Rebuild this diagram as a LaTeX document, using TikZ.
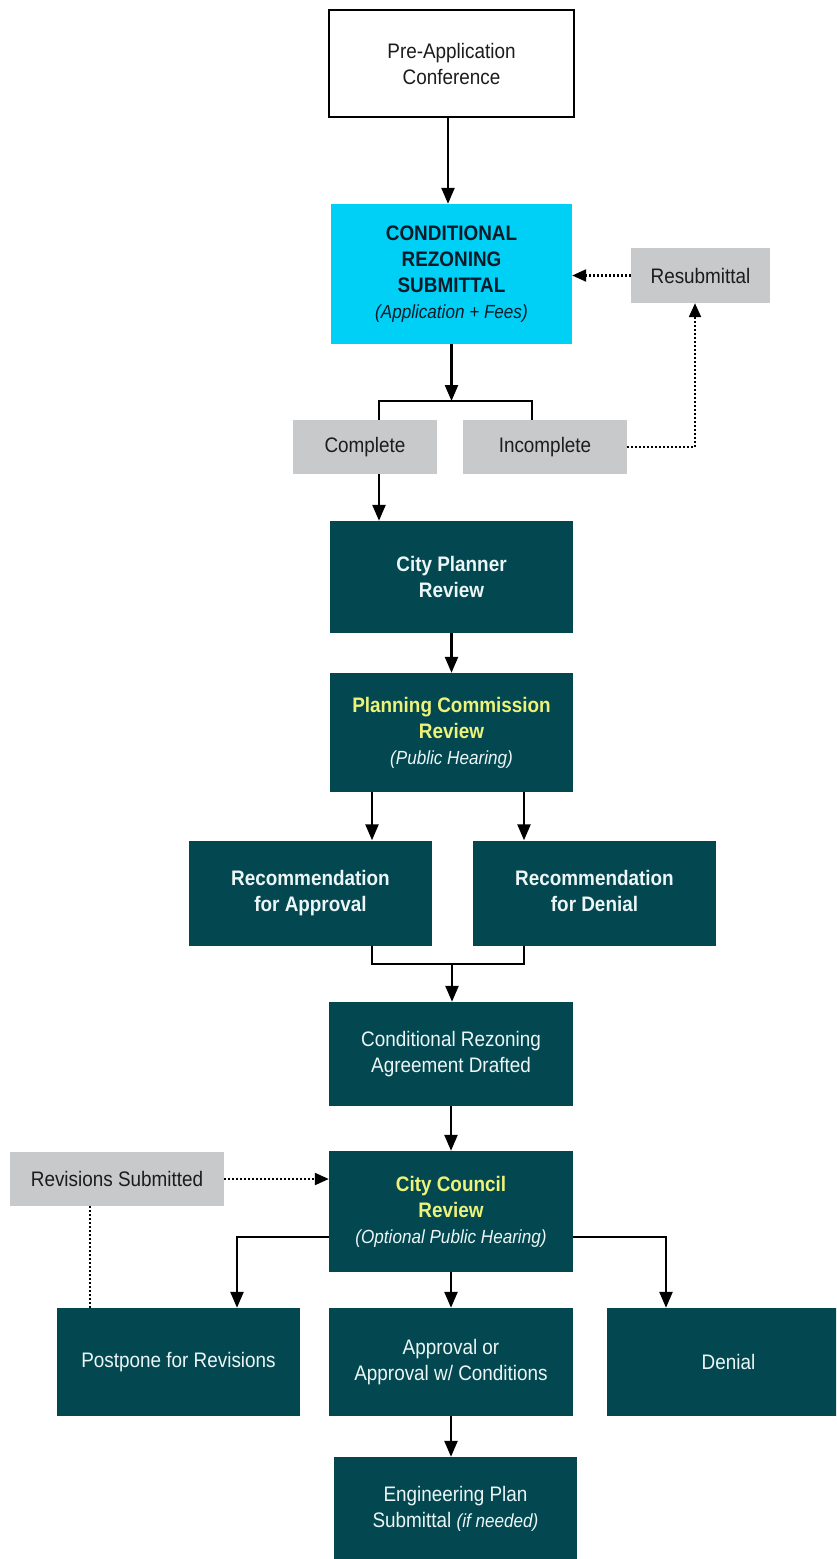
\documentclass[tikz,border=0pt]{standalone}
\usepackage{fontspec}
\setmainfont[FakeStretch=0.9]{Liberation Sans}
\usetikzlibrary{arrows.meta,calc}
\definecolor{tealbox}{RGB}{3,72,80}
\definecolor{boxgrey}{RGB}{200,201,203}
\definecolor{cyanbox}{RGB}{0,208,245}
\definecolor{yell}{RGB}{238,242,120}
\definecolor{boxwhite}{RGB}{236,246,246}
\definecolor{darktext}{RGB}{28,28,30}
\definecolor{navytext}{RGB}{10,26,40}
\newcommand\subtxt[1]{{\fontsize{19}{26}\selectfont\itshape #1}}
\begin{document}
\begin{tikzpicture}[x=1pt,y=-1pt,
  box/.style={rectangle,inner sep=0pt,align=center,font=\fontsize{21}{26}\selectfont},
  tbox/.style={box,fill=tealbox,text=boxwhite},
  gbox/.style={box,fill=boxgrey,text=darktext},
  arr/.style={line width=2.4pt,-{Triangle[width=13pt,length=16pt]}},
  dotarr/.style={line width=2.2pt,dash pattern=on 2pt off 2pt,-{Triangle[width=12pt,length=14pt]}},
  dotline/.style={line width=2.2pt,dash pattern=on 2pt off 2pt},
  plain/.style={line width=2.4pt}]
\useasboundingbox (0,0) rectangle (836,1559);
\clip (0,0) rectangle (836,1559);
\fill[white] (0,0) rectangle (836,1559);

% nodes
\node[box,draw=black,line width=2.4pt,fill=white,text=darktext,minimum width=245pt,minimum height=107pt] (pre) at (451.5,63.5) {Pre-Application\\Conference};
\node[box,fill=cyanbox,text=navytext,minimum width=241pt,minimum height=140pt] (crs) at (451.5,274) {\textbf{CONDITIONAL}\\\textbf{REZONING}\\\textbf{SUBMITTAL}\\\subtxt{(Application + Fees)}};
\node[gbox,minimum width=139pt,minimum height=55pt] (resub) at (700.5,275.5) {Resubmittal};
\node[gbox,minimum width=144pt,minimum height=54pt] (comp) at (365,447) {Complete};
\node[gbox,minimum width=164pt,minimum height=54pt] (incomp) at (545,447) {Incomplete};
\node[tbox,minimum width=243pt,minimum height=112pt] (cpr) at (451.5,577) {\textbf{City Planner}\\\textbf{Review}};
\node[tbox,minimum width=243pt,minimum height=119pt] (pcr) at (451.5,732.5) {\textcolor{yell}{\textbf{Planning Commission}}\\\textcolor{yell}{\textbf{Review}}\\\subtxt{(Public Hearing)}};
\node[tbox,minimum width=243pt,minimum height=105pt] (rapp) at (310.5,893) {\textbf{Recommendation}\\\textbf{for Approval}};
\node[tbox,minimum width=243pt,minimum height=105pt] (rden) at (594.5,893) {\textbf{Recommendation}\\\textbf{for Denial}\vphantom{p}};
\node[tbox,minimum width=244pt,minimum height=104pt] (cra) at (451,1054) {Conditional Rezoning\\Agreement Drafted};
\node[gbox,minimum width=214pt,minimum height=54pt] (rev) at (117,1179) {Revisions Submitted};
\node[tbox,minimum width=244pt,minimum height=121pt] (ccr) at (451,1211.5) {\textcolor{yell}{\textbf{City Council}}\\\textcolor{yell}{\textbf{Review}}\\\subtxt{(Optional Public Hearing)}};
\node[tbox,minimum width=243pt,minimum height=108pt] (post) at (178.5,1362) {Postpone for Revisions};
\node[tbox,minimum width=244pt,minimum height=108pt] (appr) at (451,1362) {Approval or\\Approval w/ Conditions};
\node[tbox,minimum width=243pt,minimum height=108pt] (den) at (728.5,1362) {Denial};
\node[tbox,minimum width=243pt,minimum height=104pt] (eng) at (455.5,1509) {Engineering Plan\\Submittal \subtxt{(if needed)}};

% helper coordinates
\coordinate (bkL) at (379,401);
\coordinate (bkR) at (532,401);
\coordinate (bkM) at (451.5,401);
\coordinate (rsx) at (695,0);
\coordinate (pa) at (372,0);
\coordinate (pd) at (524,0);
\coordinate (jm) at (452,964);
\coordinate (dv) at (90,0);
\coordinate (cl) at (237,1237);
\coordinate (cr) at (666,1237);
\coordinate (px) at (448,0);

% connectors
\draw[arr] (pre.south -| px) -- (crs.north -| px);
\draw[arr] (crs.south) -- (bkM);
\draw[plain] (comp.north -| bkL) |- (bkR) -- (incomp.north -| bkR);
\draw[arr] (comp.south -| bkL) -- (cpr.north -| bkL);
\draw[dotarr] (incomp.east) -| (resub.south -| rsx);
\draw[dotarr] (resub.west) -- (crs.east |- resub.west);
\draw[arr] (cpr) -- (pcr);
\draw[arr] (pcr.south -| pa) -- (rapp.north -| pa);
\draw[arr] (pcr.south -| pd) -- (rden.north -| pd);
\draw[plain] (rapp.south -| pa) |- (jm) -| (rden.south -| pd);
\draw[arr] (jm) -- (cra.north -| jm);
\draw[arr] (cra) -- (ccr);
\draw[dotarr] (rev.east) -- (ccr.west |- rev.east);
\draw[dotline] (rev.south -| dv) -- (post.north -| dv);
\draw[arr] (ccr.west |- cl) -| (post.north -| cl);
\draw[arr] (ccr.east |- cr) -| (den.north -| cr);
\draw[arr] (ccr) -- (appr);
\draw[arr] (appr.south) -- (eng.north -| appr.south);
\end{tikzpicture}
\end{document}
